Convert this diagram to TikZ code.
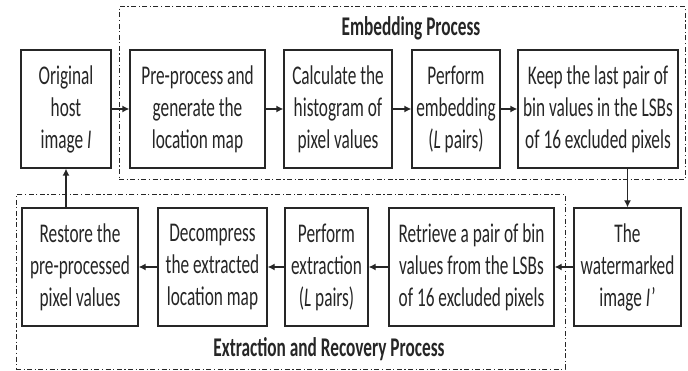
\documentclass[tikz,border=0pt]{standalone}
\usepackage{fontspec}
\setmainfont{Carlito}[FakeStretch=0.64]
\usetikzlibrary{arrows.meta}
\definecolor{ink}{HTML}{262626}
\tikzset{
  box/.style={draw=ink, line width=1.3pt, align=center, inner sep=0pt,
    minimum height=118pt, text=ink,
    font=\fontsize{27}{32}\selectfont},
  region/.style={draw=ink, line width=1pt, dash pattern=on 5pt off 2.5pt on 1.2pt off 2.5pt,
    inner sep=0pt},
  title/.style={text=ink, font=\fontsize{27}{32}\selectfont\bfseries},
  arr/.style={draw=ink, line width=1.3pt, -{Latex[length=7pt,width=7pt]}}
}
\begin{document}
\begin{tikzpicture}[x=1pt,y=-1pt]
\useasboundingbox[fill=white] (0,0) rectangle (688,371);
% regions
\node[region, minimum width=566pt, minimum height=173pt] (emb) at (402,93.5) {};
\node[region, minimum width=549pt, minimum height=174pt] (ext) at (290.5,282) {};
\node[title] (embt) at (411,28) {Embedding Process};
\node[title] (extt) at (329,349) {Extraction and Recovery Process};
% top row
\node[box, minimum width=90pt] (orig) at (66,109) {Original\\host\\image \textit{I}};
\node[box, minimum width=135pt] (pre) at (197.5,109) {Pre-process and\\generate the\\location map};
\node[box, minimum width=108pt] (calc) at (338,109) {Calculate the\\histogram of\\pixel values};
\node[box, minimum width=88pt] (perf) at (456,109) {Perform\\embedding\\(\textit{L} pairs)};
\node[box, minimum width=160pt] (keep) at (598,109) {Keep the last pair of\\bin values in the LSBs\\of 16 excluded pixels};
% bottom row
\node[box, minimum width=116pt] (rest) at (80,267) {Restore the\\pre-processed\\pixel values};
\node[box, minimum width=109pt] (deco) at (212.5,267) {Decompress\\the extracted\\location map};
\node[box, minimum width=83pt] (extr) at (326.5,267) {Perform\\extraction\\(\textit{L} pairs)};
\node[box, minimum width=165pt] (retr) at (471.5,267) {Retrieve a pair of bin\\values from the LSBs\\of 16 excluded pixels};
\node[box, minimum width=107pt] (water) at (627.5,267) {The\\watermarked\\image \textit{I}\kern1pt’};
% connectors
\draw[arr] (orig) -- (pre);
\draw[arr] (pre) -- (calc);
\draw[arr] (calc) -- (perf);
\draw[arr] (perf) -- (keep);
\draw[arr] (keep.south -| water.north) -- (water.north);
\draw[arr] (water) -- (retr);
\draw[arr] (retr) -- (extr);
\draw[arr] (extr) -- (deco);
\draw[arr] (deco) -- (rest);
\draw[arr] (rest.north -| orig.south) -- (orig.south);
\end{tikzpicture}
\end{document}
